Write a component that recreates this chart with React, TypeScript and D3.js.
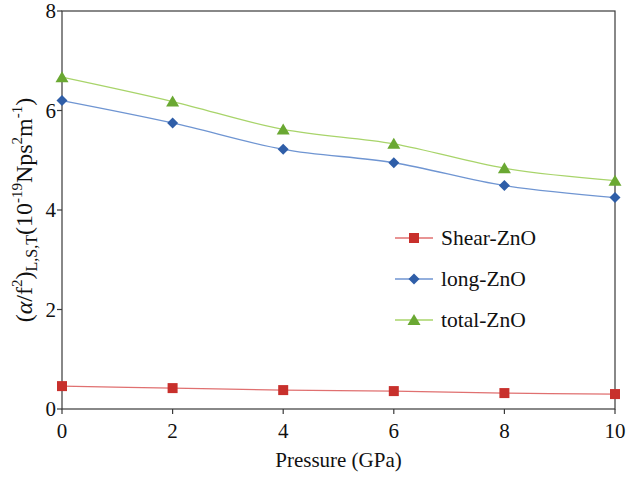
import React from "react";
import * as d3 from "d3";

const pressures = [0, 2, 4, 6, 8, 10];
const shearZnO = [0.46, 0.42, 0.38, 0.36, 0.32, 0.3];
const longZnO = [6.2, 5.75, 5.22, 4.95, 4.49, 4.25];
const totalZnO = [6.67, 6.18, 5.62, 5.33, 4.84, 4.59];
const xTicks = [0, 2, 4, 6, 8, 10];
const yTicks = [0, 2, 4, 6, 8];

const W = 640;
const H = 478;
const M = { left: 62, right: 615, top: 11, bottom: 409 };
const FONT = "Liberation Serif, Tinos, Times New Roman, DejaVu Serif, serif";

const series = [
  { name: "Shear-ZnO", values: shearZnO, line: "#e07070", fill: "#c8302c", shape: "square" },
  { name: "long-ZnO", values: longZnO, line: "#6f95d2", fill: "#2f5ea8", shape: "diamond" },
  { name: "total-ZnO", values: totalZnO, line: "#a8d46a", fill: "#6aa832", shape: "triangle" },
];

function Marker({ shape, x, y, fill }: { shape: string; x: number; y: number; fill: string }) {
  if (shape === "square") return <rect x={x - 5} y={y - 5} width={10} height={10} fill={fill} />;
  if (shape === "diamond")
    return <path d={`M${x},${y - 5.5}L${x + 5.5},${y}L${x},${y + 5.5}L${x - 5.5},${y}Z`} fill={fill} />;
  return <path d={`M${x},${y - 6}L${x + 6.5},${y + 5}L${x - 6.5},${y + 5}Z`} fill={fill} />;
}

export default function App() {
  const x = d3.scaleLinear().domain([0, 10]).range([M.left, M.right]);
  const y = d3.scaleLinear().domain([0, 8]).range([M.bottom, M.top]);
  const line = d3
    .line<number>()
    .x((_, i) => x(pressures[i]))
    .y((d) => y(d))
    .curve(d3.curveCatmullRom.alpha(0.5));

  const txt = { fontFamily: FONT, fill: "#111" } as React.CSSProperties;

  return (
    <svg width={W} height={H} style={{ position: "absolute", left: 0, top: 0, background: "#fff" }}>
      <rect x={M.left} y={M.top} width={M.right - M.left} height={M.bottom - M.top} fill="none" stroke="#3a3a3a" strokeWidth={1.2} />
      {yTicks.map((t) => (
        <g key={"y" + t}>
          <line x1={M.left - 5} x2={M.left} y1={y(t)} y2={y(t)} stroke="#3a3a3a" strokeWidth={1.2} />
          <text x={M.left - 6} y={y(t) + 7} textAnchor="end" fontSize={21} style={txt}>
            {t}
          </text>
        </g>
      ))}
      {xTicks.map((t) => (
        <g key={"x" + t}>
          <line x1={x(t)} x2={x(t)} y1={M.bottom} y2={M.bottom + 5} stroke="#3a3a3a" strokeWidth={1.2} />
          <text x={x(t)} y={M.bottom + 29} textAnchor="middle" fontSize={21} style={txt}>
            {t}
          </text>
        </g>
      ))}
      <text x={(M.left + M.right) / 2} y={467} textAnchor="middle" fontSize={21} style={txt}>
        Pressure (GPa)
      </text>
      <text
        transform={`translate(32, 210) rotate(-90)`}
        textAnchor="middle"
        fontSize={24}
        style={txt}
      >
        (<tspan fontStyle="italic">α</tspan>/f<tspan fontSize={15} dy={-10}>2</tspan>
        <tspan dy={10}>)</tspan>
        <tspan fontSize={16} dy={5}>L,S,T</tspan>
        <tspan dy={-5}>(10</tspan>
        <tspan fontSize={15} dy={-10}>-19</tspan>
        <tspan dy={10}>Nps</tspan>
        <tspan fontSize={15} dy={-10}>2</tspan>
        <tspan dy={10}>m</tspan>
        <tspan fontSize={15} dy={-10}>-1</tspan>
        <tspan dy={10}>)</tspan>
      </text>
      {series.map((s) => (
        <g key={s.name}>
          <path d={line(s.values) || ""} fill="none" stroke={s.line} strokeWidth={1.3} />
          {s.values.map((v, i) => (
            <Marker key={i} shape={s.shape} x={x(pressures[i])} y={y(v)} fill={s.fill} />
          ))}
        </g>
      ))}
      {series.map((s, i) => {
        const ly = 238 + i * 41;
        return (
          <g key={"lg" + s.name}>
            <line x1={395} x2={433} y1={ly} y2={ly} stroke={s.line} strokeWidth={1.3} />
            <Marker shape={s.shape} x={414} y={ly} fill={s.fill} />
            <text x={441} y={ly + 7} fontSize={21.5} style={txt}>
              {s.name}
            </text>
          </g>
        );
      })}
    </svg>
  );
}
